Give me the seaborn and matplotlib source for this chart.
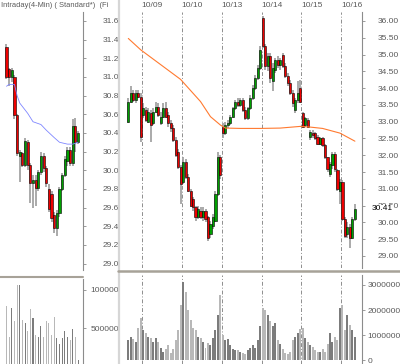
import numpy as np
import pandas as pd
import matplotlib
matplotlib.use('Agg')
import matplotlib.pyplot as plt
import matplotlib.transforms as mtrans
from matplotlib.lines import Line2D
import seaborn as sns

# ---- right panel: 10/08 .. 10/16 bars ----
r_open = [33.00, 33.60, 33.85, 33.65, 33.85, 33.75,
          33.20, 33.35, 33.00, 33.25, 32.95, 33.30, 33.45, 32.95, 33.15, 33.40, 33.20, 32.95, 32.80, 32.45, 32.10, 31.65,
          31.20, 31.80, 31.35, 30.95, 30.70, 30.45, 30.15, 30.35, 30.15, 30.35, 30.15, 29.65, 29.90, 30.05, 30.85, 31.95,
          32.85, 32.65, 32.90, 32.95, 33.15, 33.40, 33.60, 33.50, 33.65, 33.35, 33.10, 33.40, 33.70, 34.00, 34.30, 34.60,
          36.10, 35.25, 34.65, 34.95, 34.20, 34.55, 34.85, 34.70, 35.00, 34.65, 34.35, 34.15, 33.85, 33.35, 33.65, 34.00,
          33.25, 32.90, 33.05, 32.55, 32.65, 32.65, 32.55, 32.35, 32.50, 32.30, 31.95, 31.45, 31.70, 32.05, 31.55, 30.95,
          31.20, 30.10, 29.65, 29.85, 29.55, 30.10]
r_high = [33.70, 34.05, 33.95, 33.95, 33.95, 33.85,
          33.55, 33.45, 33.40, 33.35, 33.40, 33.60, 33.55, 33.30, 33.55, 33.60, 33.30, 33.05, 32.90, 32.55, 32.20, 31.70,
          31.95, 31.90, 31.45, 31.00, 30.75, 30.50, 30.50, 30.45, 30.45, 30.40, 30.20, 30.05, 30.25, 30.95, 32.10, 32.00,
          32.95, 33.00, 33.05, 33.20, 33.45, 33.65, 33.70, 33.70, 33.70, 33.45, 33.45, 33.80, 34.10, 34.40, 34.70, 35.25,
          36.15, 35.30, 35.05, 35.05, 34.75, 34.90, 34.95, 34.90, 35.05, 34.75, 34.45, 34.25, 33.95, 33.70, 34.20, 34.25,
          33.30, 33.15, 33.10, 32.75, 32.75, 32.70, 32.60, 32.55, 32.55, 32.35, 31.95, 31.80, 32.10, 32.10, 31.60, 31.30,
          31.25, 30.15, 30.00, 29.95, 30.15, 30.55]
r_low = [32.95, 33.55, 33.60, 33.55, 33.70, 32.40,
         33.10, 33.00, 32.95, 32.40, 32.90, 33.25, 33.15, 32.90, 33.10, 33.10, 32.85, 32.70, 32.40, 31.95, 31.60, 30.55,
         31.15, 31.30, 30.90, 30.45, 30.35, 30.05, 30.10, 30.10, 30.05, 30.00, 29.45, 29.55, 29.80, 30.00, 30.80, 31.30,
         32.50, 32.60, 32.80, 32.90, 33.10, 33.35, 33.45, 33.45, 33.30, 33.05, 33.05, 33.35, 33.65, 33.95, 34.25, 34.55,
         35.20, 34.55, 34.50, 34.15, 33.90, 34.45, 34.60, 34.55, 34.60, 34.30, 34.05, 33.80, 33.45, 33.25, 33.55, 33.55,
         32.80, 32.85, 32.80, 32.45, 32.50, 32.45, 32.30, 32.30, 32.25, 31.90, 31.50, 31.35, 31.60, 31.50, 30.95, 30.55,
         30.05, 29.55, 29.55, 29.25, 29.50, 30.05]
r_close = [33.60, 33.85, 33.65, 33.85, 33.75, 32.55,
           33.40, 33.05, 33.30, 32.90, 33.30, 33.45, 33.20, 33.15, 33.40, 33.15, 32.95, 32.80, 32.45, 32.00, 31.65, 31.15,
           31.80, 31.35, 30.95, 30.50, 30.45, 30.15, 30.40, 30.15, 30.35, 30.10, 29.55, 29.95, 30.15, 30.85, 31.95, 31.40,
           32.65, 32.90, 32.95, 33.15, 33.40, 33.60, 33.50, 33.65, 33.35, 33.10, 33.40, 33.70, 34.00, 34.30, 34.60, 35.15,
           35.25, 34.65, 34.95, 34.30, 34.60, 34.85, 34.70, 34.85, 34.65, 34.35, 34.15, 33.85, 33.55, 33.65, 33.85, 33.60,
           32.85, 33.10, 32.85, 32.70, 32.60, 32.50, 32.35, 32.50, 32.30, 31.95, 31.60, 31.75, 32.05, 31.60, 31.00, 31.20,
           30.10, 29.60, 29.85, 29.55, 30.10, 30.41]
# volume in millions of shares
r_volume = [8.0, 9.5, 8.5, 7.5, 13.0, 17.0,
            12, 11, 9.5, 9, 7.5, 9, 7.5, 5, 3.5, 4.5, 6, 3, 4.5, 8, 12, 22,
            31, 27, 20, 16, 13, 12, 9.5, 9, 7.5, 5, 7, 6, 9, 12, 18, 26,
            10, 8, 8.5, 6, 4.5, 4, 4, 3.5, 3, 2.5, 4, 5, 6, 5, 8, 13.5,
            21, 20, 18, 15.5, 13.5, 15, 8, 6.5, 4.5, 3, 2.5, 3.5, 8, 9.5, 11, 12.5,
            13, 9, 7.5, 6, 5.5, 4.2, 3.5, 3.5, 4.5, 3.5, 6.5, 11, 7.5, 9.5, 8, 21,
            22, 12, 18, 14, 12, 9.5]
# moving average (bar index, value)
ma_r_idx = [0, 5, 13, 21, 29, 33, 37, 39, 45, 53, 61, 69, 73, 78, 85, 91]
ma_r_val = [35.48, 35.14, 34.70, 34.26, 33.60, 33.15, 32.90, 32.81, 32.80, 32.80, 32.81, 32.86, 32.84, 32.80, 32.66, 32.42]
day_pos = [5.5, 21.5, 37.5, 53.5, 69.5, 85.5]
day_labels = ['10/09', '10/10', '10/13', '10/14', '10/15', '10/16']
last_price = 30.41

# ---- left panel: intraday 4-min bars ----
l_open = [31.32, 31.08, 31.00, 31.00, 30.59, 30.15, 30.18, 30.06, 30.30, 30.06, 29.86, 29.90, 29.81, 29.98,
          30.15, 30.02, 29.80, 29.75, 29.52, 29.38, 29.54, 29.80, 29.95, 30.10, 30.22, 30.08, 30.47, 30.30]
l_high = [31.35, 31.10, 31.10, 31.02, 30.60, 30.22, 30.20, 30.35, 30.32, 30.08, 29.95, 29.95, 30.00, 30.20,
          30.18, 30.05, 29.85, 29.78, 29.55, 29.57, 29.82, 29.97, 30.15, 30.25, 30.25, 30.55, 30.56, 30.42]
l_low = [30.98, 30.90, 30.95, 30.55, 30.15, 29.87, 30.03, 30.03, 30.00, 29.65, 29.60, 29.62, 29.78, 29.95,
         29.98, 29.82, 29.55, 29.45, 29.33, 29.30, 29.50, 29.78, 29.93, 30.05, 30.05, 30.05, 30.20, 30.28]
l_close = [31.00, 31.00, 31.07, 30.59, 30.18, 30.20, 30.06, 30.31, 30.06, 29.86, 29.90, 29.81, 29.98, 30.15,
           30.02, 29.86, 29.59, 29.49, 29.38, 29.54, 29.80, 29.95, 30.12, 30.22, 30.08, 30.47, 30.30, 30.40]
l_volume = [0.79, 0.39, 0.76, 0.59, 1.06, 1.06, 0.61, 0.57, 0.46, 0.75, 0.63, 0.41, 0.39, 0.53,
            0.39, 0.59, 0.57, 0.41, 0.65, 0.37, 0.30, 0.37, 0.46, 0.39, 0.35, 0.49, 0.39, 0.09]
ma_l_idx = [0, 1, 3, 4, 5, 8, 10, 13, 15, 18, 20, 23, 25, 27]
ma_l_val = [30.90, 30.92, 30.92, 30.80, 30.72, 30.61, 30.52, 30.49, 30.43, 30.35, 30.30, 30.28, 30.28, 30.30]

GREEN = '#00a000'
RED = '#ee0000'
GRID = '#8c8c8c'
TXT = '#5a5a5a'

sns.set_style('white')
plt.rcParams['font.family'] = ['Liberation Sans', 'DejaVu Sans']

W, H = 400, 364
fig = plt.figure(figsize=(W / 100, H / 100), dpi=100)


def box(x0, y0, x1, y1):
    return [x0 / W, 1 - y1 / H, (x1 - x0) / W, (y1 - y0) / H]


ax_lp = fig.add_axes(box(0, 12, 83, 270))
ax_lv = fig.add_axes(box(0, 279, 83, 366.6))
ax_rp = fig.add_axes(box(118, 12, 362, 268))
ax_rv = fig.add_axes(box(118, 275, 362, 364))


def draw_candles(ax, o, h, l, c, width, min_body):
    df = pd.DataFrame({'o': o, 'h': h, 'l': l, 'c': c})
    df['x'] = np.arange(len(df))
    up = df.c >= df.o
    ax.vlines(df.x, df.l, df.h, color='#9c9c9c', lw=1.2, zorder=2)
    body = (df.c - df.o).abs().clip(lower=min_body)
    ax.bar(df.x, body, bottom=df[['o', 'c']].min(axis=1), width=width,
           color=np.where(up, GREEN, RED), edgecolor='black', linewidth=0.4, zorder=3)
    return up


def draw_volume(ax, vol, up, width, scale):
    x = np.arange(len(vol))
    cols = np.where(up, '#7c7c7c', '#b8b8b8')
    ax.bar(x, np.array(vol) * scale, width=width, color=cols, linewidth=0, zorder=2)


def style_axis(ax, pad):
    for s in ['top', 'left', 'bottom']:
        ax.spines[s].set_visible(False)
    ax.spines['right'].set_color(GRID)
    ax.spines['right'].set_linewidth(0.8)
    ax.yaxis.tick_right()
    ax.set_xticks([])
    ax.tick_params(axis='y', direction='out', length=2, width=0.6, color=GRID,
                   labelsize=6, labelcolor=TXT, pad=pad)
    ax.set_xlabel('')
    ax.set_ylabel('')


# right panel
up_r = draw_candles(ax_rp, r_open, r_high, r_low, r_close, 0.85, 0.03)
sns.lineplot(x=ma_r_idx, y=ma_r_val, ax=ax_rp, color='#ff7a30', lw=0.8, zorder=4)
draw_volume(ax_rv, r_volume, up_r, 0.8, 1e6)
for ax in (ax_rp, ax_rv):
    for p in day_pos:
        ax.axvline(p, color='#8e8e8e', lw=0.7, ls=(0, (4, 2, 1, 2)), zorder=1)
    ax.set_xlim(-4.14, 93.85)
ax_rp.set_ylim(28.642, 36.268)
ax_rv.set_ylim(-1.39e6, 33.93e6)

r_ticks = np.arange(29.0, 36.01, 0.5)
ax_rp.set_yticks(r_ticks)
ax_rp.set_yticklabels([f'{v:.2f}' for v in r_ticks])
style_axis(ax_rp, 9)
ax_rv.set_yticks([0, 10e6, 20e6, 30e6])
ax_rv.set_yticklabels(['0', '10000000', '20000000', '30000000'])
style_axis(ax_rv, 2)

trans = mtrans.blended_transform_factory(ax_rp.transAxes, ax_rp.transData)
ax_rp.text(1.039, last_price, f'{last_price:.2f}', transform=trans, fontsize=6, color='black',
           va='center', ha='left', bbox=dict(facecolor='white', edgecolor='none', pad=0.3), clip_on=False)
for p, lab in zip(day_pos, day_labels):
    ax_rp.text(p - 0.1, 1.027, lab, transform=ax_rp.get_xaxis_transform(), fontsize=6,
               color=TXT, ha='left', va='center')

# left panel
up_l = draw_candles(ax_lp, l_open, l_high, l_low, l_close, 0.8, 0.01)
sns.lineplot(x=ma_l_idx, y=ma_l_val, ax=ax_lp, color='#7f86ff', lw=0.6, zorder=4)
draw_volume(ax_lv, l_volume, up_l, 0.4, 1e6)
for ax in (ax_lp, ax_lv):
    ax.set_xlim(-2.45, 28.87)
ax_lp.set_ylim(28.931, 31.696)
ax_lv.set_ylim(0, 1.1436e6)
l_ticks = np.arange(29.0, 31.61, 0.2)
ax_lp.set_yticks(l_ticks)
ax_lp.set_yticklabels([f'{v:.1f}' for v in l_ticks])
style_axis(ax_lp, 12.2)
ax_lv.set_yticks([500000, 1000000])
ax_lv.set_yticklabels(['500000', '1000000'])
style_axis(ax_lv, 3.6)

fig.text(0.002, 1 - 5.5 / H, 'Intraday(4-Min) ( Standard*)  (Fi', fontsize=5.4, color=TXT, va='center')

# panel separators
fig.add_artist(Line2D([118.5 / W] * 2, [0, 1], color='#d6d6d6', lw=1.6))
fig.add_artist(Line2D([118 / W, 1], [1 - 271 / H] * 2, color='#a7a298', lw=1.8))
fig.add_artist(Line2D([0, 83 / W], [1 - 277 / H] * 2, color='#a7a298', lw=1.5))

fig.savefig('out.png', dpi=100)
